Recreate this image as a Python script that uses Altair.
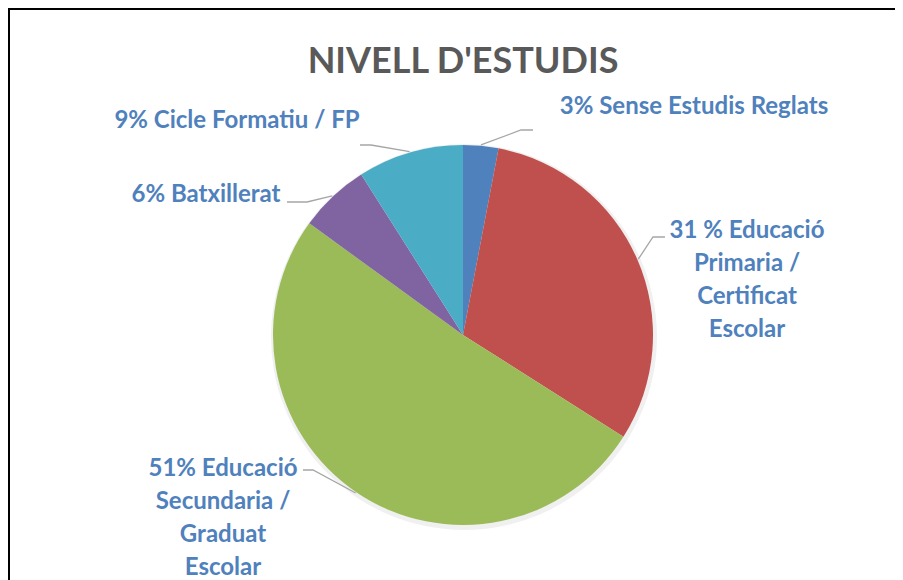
import math
import altair as alt
import pandas as pd

# ---- data ----
categories = ["Sense Estudis Reglats",
              "Educació Primaria / Certificat Escolar",
              "Educació Secundaria / Graduat Escolar",
              "Batxillerat",
              "Cicle Formatiu / FP"]
values = [3, 31, 51, 6, 9]
labels = ["3% Sense Estudis Reglats",
          "31 % Educació\nPrimaria /\nCertificat\nEscolar",
          "51% Educació\nSecundaria /\nGraduat\nEscolar",
          "6% Batxillerat",
          "9% Cicle Formatiu / FP"]
colors = ["#4F81BD", "#C0504D", "#9BBB59", "#8064A2", "#4BACC6"]
title_text = "NIVELL D'ESTUDIS"

# ---- layout ----
W, H = 887, 572
CX, CY, R = 455, 327, 190
FONT = "Lato"
label_pos = [(686, 106), (739, 230), (215, 468), (198, 194), (229, 120)]
line_heights = [33, 33, 33, 33, 33]
leader_elbow = [(513, 122), (645, 229), (305, 462), (299, 194), (363, 137)]
leader_end = [(525, 122), (657, 229), (295, 462), (279, 194), (352, 137)]

pie_df = pd.DataFrame({"cat": categories, "val": values, "ord": list(range(len(values)))})

# leader start points at slice mid-angles
total = sum(values)
rows = []
cum = 0
for i, v in enumerate(values):
    mid = (cum + v / 2) / total * 2 * math.pi
    cum += v
    sx = CX + (R + 1) * math.sin(mid)
    sy = CY - (R + 1) * math.cos(mid)
    pts = [(sx, sy), leader_elbow[i], leader_end[i]]
    for k, (px, py) in enumerate(pts):
        rows.append({"cat": categories[i], "k": k, "x": px, "y": py})
lead_df = pd.DataFrame(rows)

# one row per text line
lrows = []
for i, lab in enumerate(labels):
    for j, part in enumerate(lab.split("\n")):
        lrows.append({"cat": categories[i], "line": part,
                      "x": label_pos[i][0], "y": label_pos[i][1] + j * line_heights[i]})
lab_df = pd.DataFrame(lrows)

xs = alt.Scale(domain=[0, W], range=[0, W])
ys = alt.Scale(domain=[0, H], range=[0, H])
noax = None

pie = alt.Chart(pie_df).mark_arc(radius=R, strokeWidth=0).encode(
    theta=alt.Theta("val:Q", stack=True),
    color=alt.Color("cat:N", scale=alt.Scale(domain=categories, range=colors), legend=None),
    order=alt.Order("ord:Q"),
    x=alt.value(CX), y=alt.value(CY),
)

shadow = alt.Chart(pie_df).mark_arc(radius=R + 3, color="#000000", opacity=0.06, strokeWidth=0).encode(
    theta=alt.Theta("val:Q", stack=True),
    order=alt.Order("ord:Q"),
    x=alt.value(CX + 1), y=alt.value(CY + 2),
)

leaders = alt.Chart(lead_df).mark_line(color="#A6A6A6", strokeWidth=1.3).encode(
    x=alt.X("x:Q", scale=xs, axis=noax),
    y=alt.Y("y:Q", scale=ys, axis=noax),
    detail="cat:N",
    order="k:Q",
)

texts = alt.Chart(lab_df).mark_text(
    font=FONT, fontSize=24, fontWeight="bold", color="#4F81BD",
    align="center", baseline="alphabetic",
).encode(
    x=alt.X("x:Q", scale=xs, axis=noax),
    y=alt.Y("y:Q", scale=ys, axis=noax),
    text="line:N",
)

title = alt.Chart(pd.DataFrame({"t": [title_text]})).mark_text(
    font=FONT, fontSize=36, fontWeight="bold", color="#595959",
    align="center", baseline="alphabetic",
).encode(x=alt.value(CX), y=alt.value(65), text="t:N")

# cover for the right edge, so only the top and left frame edges show
cover_right = alt.Chart(pd.DataFrame({"a": [0]})).mark_rule(color="#ffffff", strokeWidth=6).encode(
    x=alt.value(W - 1), y=alt.value(3), y2=alt.value(H))
frame_top = alt.Chart(pd.DataFrame({"a": [0]})).mark_rule(color="#000000", strokeWidth=2).encode(
    x=alt.value(0), x2=alt.value(W), y=alt.value(1))
frame_left = alt.Chart(pd.DataFrame({"a": [0]})).mark_rule(color="#000000", strokeWidth=2).encode(
    x=alt.value(1), y=alt.value(0), y2=alt.value(H))

chart = alt.layer(shadow, pie, leaders, texts, title, cover_right, frame_top, frame_left).properties(
    width=W, height=H, autosize=alt.AutoSizeParams(type="none"), padding=0,
    background="white",
).configure_view(strokeWidth=0, stroke="#ffffff", strokeOpacity=0)

chart.save("out.html", embed_options={"renderer": "svg", "actions": False})
